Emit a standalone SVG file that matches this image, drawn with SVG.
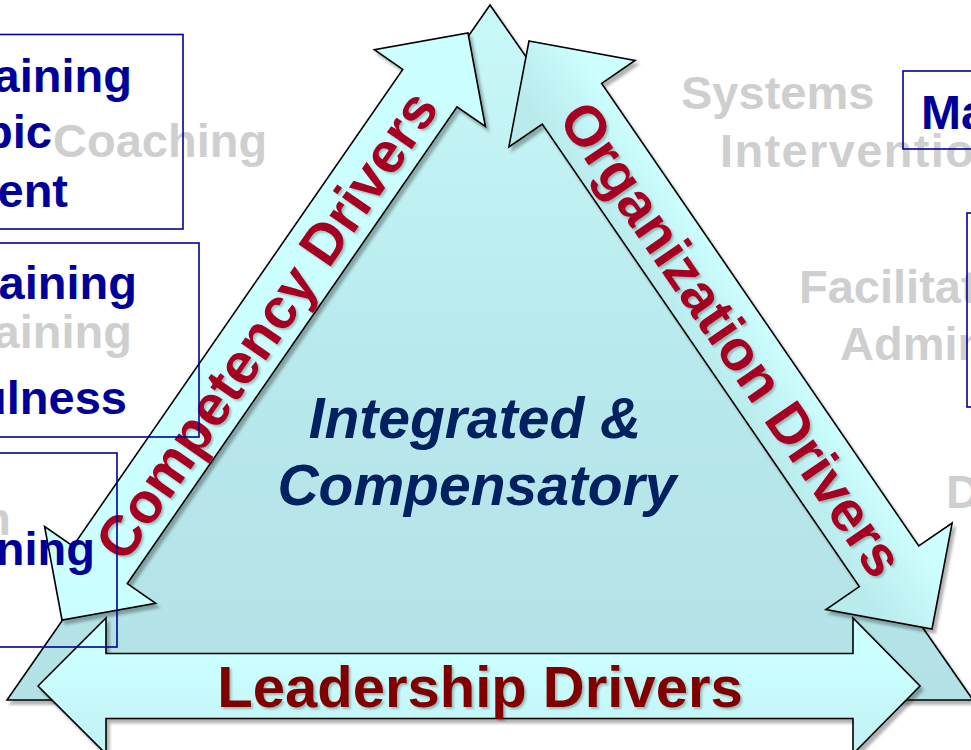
<svg xmlns="http://www.w3.org/2000/svg" width="971" height="750" viewBox="0 0 971 750">
<defs>
<style>
.shape{stroke:#000;stroke-width:1.6;stroke-linejoin:miter}
.blue{font-family:"Liberation Sans",Arial,sans-serif;font-weight:bold;font-size:47px;fill:#000099}
.grey{font-family:"Liberation Sans",Arial,sans-serif;font-weight:bold;font-size:47px;fill:#cfcfcf}
.drv{font-family:"Liberation Sans",Arial,sans-serif;font-weight:bold;font-size:57px;fill:#a50021;text-anchor:middle}
.lead{font-family:"Liberation Sans",Arial,sans-serif;font-weight:bold;font-size:58px;fill:#800000;text-anchor:middle}
.ctr{font-family:"Liberation Sans",Arial,sans-serif;font-weight:bold;font-style:italic;font-size:57px;fill:#002060;text-anchor:middle}
.box{fill:none;stroke:#000099;stroke-width:1.6}
</style>
<filter id="sh" x="-10%" y="-10%" width="120%" height="120%">
<feDropShadow dx="3" dy="4" stdDeviation="1.5" flood-color="#000" flood-opacity="0.3"/>
</filter>
<filter id="tsh" x="-10%" y="-10%" width="120%" height="120%">
<feDropShadow dx="2" dy="2" stdDeviation="1" flood-color="#000" flood-opacity="0.25"/>
</filter>
<linearGradient id="gTri" x1="0" y1="5" x2="0" y2="700" gradientUnits="userSpaceOnUse">
<stop offset="0" stop-color="#c9f9f9"/>
<stop offset="0.5" stop-color="#b8e9ec"/>
<stop offset="1" stop-color="#b3e2e6"/>
</linearGradient>
<linearGradient id="gOrg" x1="0" y1="0" x2="0" y2="1">
<stop offset="0.25" stop-color="#cdffff"/>
<stop offset="0.75" stop-color="#b9eaec"/>
</linearGradient>
<linearGradient id="gLead" x1="0" y1="0" x2="0" y2="1">
<stop offset="0.3" stop-color="#ccffff"/>
<stop offset="1" stop-color="#c0f1f3"/>
</linearGradient>
</defs>

<g id="triangle" filter="url(#sh)">
<polygon class="shape" fill="url(#gTri)" points="490,5 7,700 973,700"/>
</g>

<g id="connectors">
<g id="leadership-arrow" filter="url(#sh)">
<polygon class="shape" fill="url(#gLead)" points="38,686 106,618 106,653.5 853,653.5 853,618 920,686 853,754 853,718.5 106,718.5 106,754"/>
</g>
<g id="competency-arrow" filter="url(#sh)">
<path class="shape" fill="#ccffff" transform="translate(265 326.5) rotate(-55.33)" d="M -356.85 0 L -289.85 -67.5 L -289.85 -33 L 289.85 -33 L 289.85 -67.5 L 356.85 0 L 289.85 67.5 L 289.85 33 L -289.85 33 L -289.85 67.5 Z"/>
</g>
<g id="organization-arrow" filter="url(#sh)">
<path class="shape" fill="url(#gOrg)" transform="translate(730.5 335) rotate(55.57)" d="M -356.4 0 L -280.4 -76.5 L -280.4 -36 L 280.4 -36 L 280.4 -76.5 L 356.4 0 L 280.4 76.5 L 280.4 36 L -280.4 36 L -280.4 76.5 Z"/>
</g>
</g>

<g id="labels">
<g filter="url(#tsh)">
<text class="lead" x="480" y="707">Leadership Drivers</text>
</g>
<g filter="url(#tsh)">
<text class="drv" transform="translate(265 326.5) rotate(-55.33)" x="2" y="20">Competency Drivers</text>
</g>
<g filter="url(#tsh)">
<text class="drv" transform="translate(730.5 335) rotate(55.57)" x="4" y="21">Organization Drivers</text>
</g>
<text class="ctr" x="475" y="438">Integrated &amp;</text>
<text class="ctr" x="477" y="505">Compensatory</text>
</g>

<g id="grey-texts">
<text class="grey" x="53" y="157">Coaching</text>
<text class="grey" x="132" y="348" text-anchor="end">aining</text>
<text class="grey" x="11" y="535" text-anchor="end">n</text>
<text class="grey" x="681" y="109">Systems</text>
<text class="grey" x="720" y="167" textLength="254" lengthAdjust="spacing">Interventio</text>
<text class="grey" x="799" y="303">Facilitat</text>
<text class="grey" x="840" y="360">Admin</text>
<text class="grey" x="946" y="508">D</text>
</g>

<g id="box-training-coaching">
<rect class="box" x="-5" y="34.5" width="188" height="194.5"/>
<text class="blue" x="132" y="92" text-anchor="end">aining</text>
<text class="blue" x="52" y="148" text-anchor="end">pic</text>
<text class="blue" x="68" y="207" text-anchor="end">ent</text>
</g>
<g id="box-training-usefulness">
<rect class="box" x="-5" y="243" width="204" height="194"/>
<text class="blue" x="137" y="299" text-anchor="end">aining</text>
<text class="blue" x="127" y="414" text-anchor="end">ulness</text>
</g>
<g id="box-ning">
<rect class="box" x="-5" y="453" width="122" height="194"/>
<text class="blue" x="95" y="565" text-anchor="end">ning</text>
</g>
<g id="box-ma">
<rect class="box" x="903" y="71" width="80" height="78"/>
<text class="blue" x="921" y="129" style="font-size:48px">Ma</text>
</g>
<g id="box-right">
<rect class="box" x="967" y="213" width="20" height="194"/>
</g>
</svg>
